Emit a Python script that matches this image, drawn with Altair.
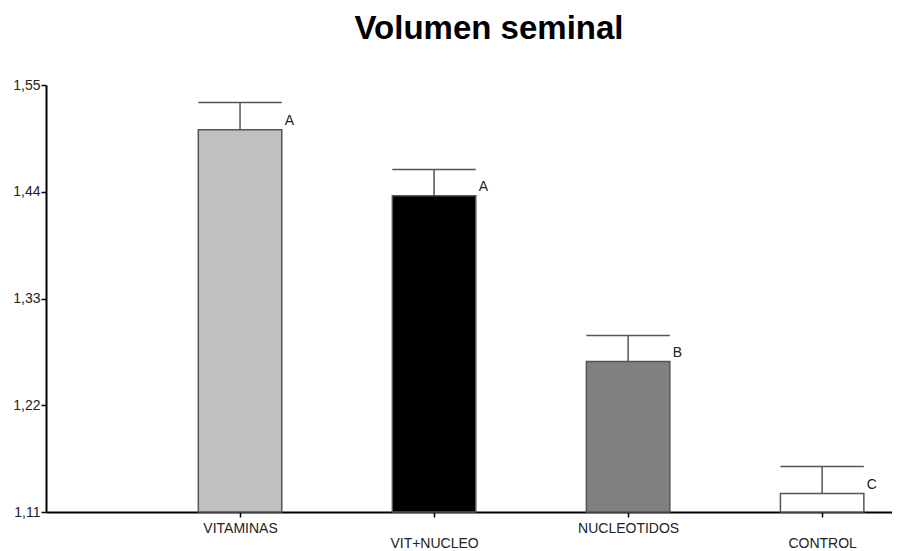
import altair as alt
import pandas as pd

categories = ["VITAMINAS", "VIT+NUCLEO", "NUCLEOTIDOS", "CONTROL"]
positions = [1, 2, 3, 4]
means = [1.504, 1.436, 1.265, 1.129]
uppers = [1.532, 1.463, 1.292, 1.157]
letters = ["A", "A", "B", "C"]
fills = ["#c0c0c0", "#000000", "#808080", "#ffffff"]
y_ticks = [1.11, 1.22, 1.33, 1.44, 1.55]

df = pd.DataFrame({
    "cat": categories, "pos": positions, "mean": means,
    "upper": uppers, "letter": letters, "fill": fills,
})

half = 0.215
base = alt.Chart(df).transform_calculate(
    lo=f"datum.pos - {half}", hi=f"datum.pos + {half}"
)

xscale = alt.Scale(domain=[0, 4.36], nice=False, zero=False)
yscale = alt.Scale(domain=[1.11, 1.55], nice=False, zero=False)

label_expr = ("datum.value == 1 ? 'VITAMINAS' : datum.value == 2 ? ['', 'VIT+NUCLEO'] : "
              "datum.value == 3 ? 'NUCLEOTIDOS' : datum.value == 4 ? ['', 'CONTROL'] : ''")

bars = base.mark_bar(stroke="#555555", strokeWidth=1.5).encode(
    x=alt.X("lo:Q", scale=xscale, axis=alt.Axis(
        values=positions, labelExpr=label_expr, title=None, grid=False,
        domainColor="#000000", domainWidth=2, tickColor="#000000", tickSize=5,
        tickWidth=1.5, labelFont="Liberation Sans", labelFontSize=14,
        labelColor="#222222", labelPadding=4, labelLineHeight=15,
        labelBaseline="top")),
    x2="hi:Q",
    y=alt.Y("mean:Q", scale=yscale, axis=alt.Axis(
        values=y_ticks,
        labelExpr="replace(format(datum.value, '.2f'), '.', ',')",
        title=None, grid=False, domainColor="#000000", domainWidth=2,
        tickColor="#000000", tickSize=5, tickWidth=1.5,
        labelFont="Liberation Sans", labelFontSize=14, labelColor="#222222",
        labelPadding=1)),
    y2=alt.datum(1.11),
    fill=alt.Fill("fill:N", scale=None),
)

stem = base.mark_rule(color="#555555", strokeWidth=1.5).encode(
    x="pos:Q", y="mean:Q", y2="upper:Q"
)
cap = base.mark_rule(color="#555555", strokeWidth=1.5).encode(
    x="lo:Q", x2="hi:Q", y="upper:Q"
)
text = base.mark_text(align="left", baseline="alphabetic", dx=3, dy=-5,
                      font="Liberation Sans", fontSize=14, color="#222222").encode(
    x="hi:Q", y="mean:Q", text="letter:N"
)

chart = alt.layer(bars, stem, cap, text).properties(
    width=846, height=427,
    autosize=alt.AutoSizeParams(type="none"),
    padding={"left": 38, "top": 77, "right": 0, "bottom": 38},
    title=alt.TitleParams("Volumen seminal", font="Liberation Sans",
                          fontSize=33, fontWeight="bold", color="#000000",
                          anchor="middle", dx=20, offset=32),
).configure_view(stroke=None)

chart.save("out.html", embed_options={"renderer": "svg", "actions": False})
